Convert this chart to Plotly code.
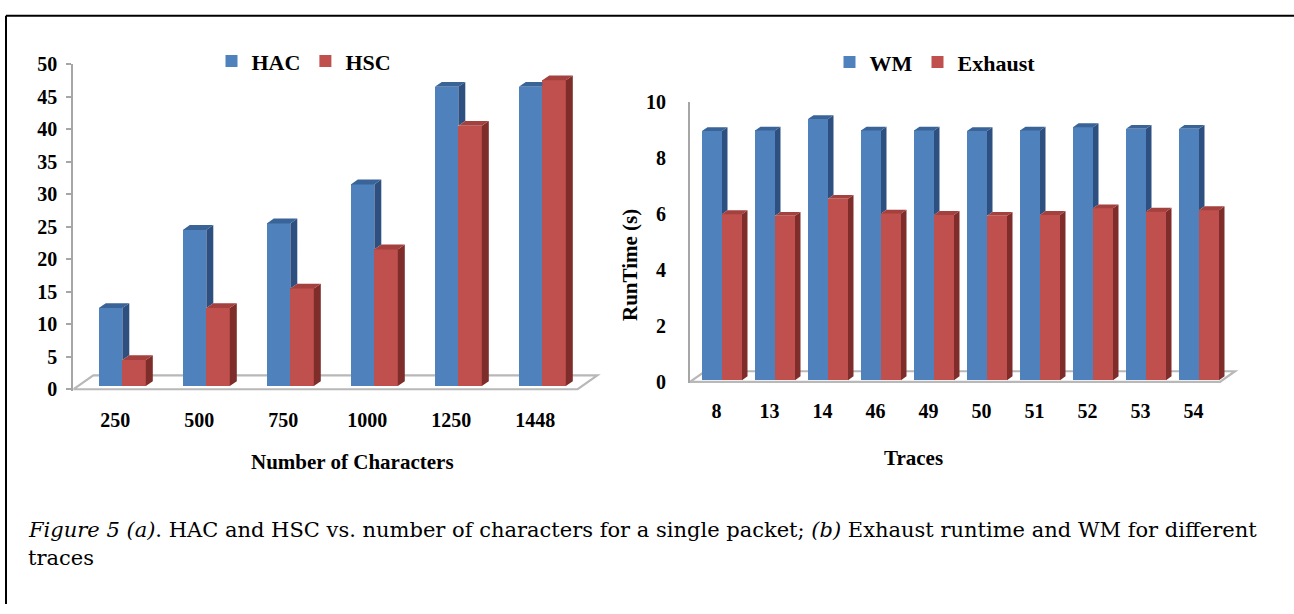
import plotly.graph_objects as go

W, H = 1294, 614

# ---------------- data ----------------
chars = ["250", "500", "750", "1000", "1250", "1448"]
hac = [12, 24, 25, 31, 46, 46]
hsc = [4, 12, 15, 21, 40, 47]

trace_ids = ["8", "13", "14", "46", "49", "50", "51", "52", "53", "54"]
wm = [8.91, 8.93, 9.34, 8.93, 8.93, 8.91, 8.93, 9.05, 8.99, 8.99]
exhaust = [5.94, 5.88, 6.49, 5.96, 5.91, 5.88, 5.91, 6.15, 6.03, 6.08]

left_ticks = [0, 5, 10, 15, 20, 25, 30, 35, 40, 45, 50]
right_ticks = [0, 2, 4, 6, 8, 10]

# ---------------- style ----------------
BLUE = dict(front="#4F81BD", side="#2D5080", top="#3A6497")
RED = dict(front="#C0504D", side="#7E2D2B", top="#A4403D")
GRAY = "#A6A6A6"
FONT = "Liberation Serif"

fig = go.Figure()


def poly_trace(polys, color, xa, ya):
    xs, ys = [], []
    for p in polys:
        for (px, py) in p:
            xs.append(px)
            ys.append(py)
        xs.append(None)
        ys.append(None)
    return go.Scatter(x=xs, y=ys, mode="lines", fill="toself", fillcolor=color,
                      line=dict(width=0, color=color), hoverinfo="skip",
                      showlegend=False, xaxis=xa, yaxis=ya)


def panel(cats, s1, s2, names, cfg, xa, ya, legend):
    n = len(cats)
    cat_px, ypp = cfg["cat_px"], cfg["ypp"]
    w = cfg["bar_px"] / cat_px
    shift = cfg["shift_px"] / cat_px
    dx = cfg["dx_px"] / cat_px
    dy = cfg["dy_px"] / ypp
    b = cfg["base_px"] / ypp
    idx = list(range(n))
    xr = [i + shift for i in idx]          # boundary between the two bars
    x1 = [c - w / 2 for c in xr]
    x2 = [c + w / 2 for c in xr]

    fig.add_trace(go.Bar(x=x1, y=s1, base=b, width=w, name=names[0],
                         marker=dict(color=BLUE["front"], line=dict(width=0)),
                         xaxis=xa, yaxis=ya, legend=legend, hoverinfo="skip"))
    fig.add_trace(go.Bar(x=x2, y=s2, base=b, width=w, name=names[1],
                         marker=dict(color=RED["front"], line=dict(width=0)),
                         xaxis=xa, yaxis=ya, legend=legend, hoverinfo="skip"))

    side1, top1, side2, top2 = [], [], [], []
    for c, v1, v2 in zip(xr, s1, s2):
        T, Hh = b + v1, b + v2
        xl = c - w
        if v1 > v2:
            side1.append([(c, Hh), (c + dx, Hh + dy), (c + dx, T + dy), (c, T)])
            top1.append([(xl, T), (c, T), (c + dx, T + dy), (xl + dx, T + dy)])
        elif T + dy <= Hh:
            top1.append([(xl, T), (c, T), (c, T + dy), (xl + dx, T + dy)])
        else:
            top1.append([(xl, T), (c, T), (c, Hh), (c + (Hh - T) * dx / dy, Hh),
                         (c + dx, T + dy), (xl + dx, T + dy)])
        xe = c + w
        side2.append([(xe, b), (xe + dx, b + dy), (xe + dx, Hh + dy), (xe, Hh)])
        top2.append([(c, Hh), (xe, Hh), (xe + dx, Hh + dy), (c + dx, Hh + dy)])

    fig.add_trace(poly_trace(side1, BLUE["side"], xa, ya))
    fig.add_trace(poly_trace(top1, BLUE["top"], xa, ya))
    fig.add_trace(poly_trace(side2, RED["side"], xa, ya))
    fig.add_trace(poly_trace(top2, RED["top"], xa, ya))

    # floor
    fdx = cfg["fdx_px"] / cat_px
    fdy = cfg["fdy_px"] / ypp
    path = (f"M {-0.5},{0} L {n - 0.5},{0} L {n - 0.5 + fdx},{fdy} "
            f"L {-0.5 + fdx},{fdy} Z")
    fig.add_shape(type="path", path=path, xref=xa, yref=ya, layer="below",
                  line=dict(color="#B8B8B8", width=2.2), fillcolor="white")

    xmax = n - 0.5 + fdx + 0.1
    dom_x = [cfg["x0_px"] / W, (cfg["x0_px"] + (xmax + 0.5) * cat_px) / W]
    bottom_px = cfg["y0_px"] - cfg["ymin"] * ypp
    top_px = cfg["y0_px"] - cfg["ymax"] * ypp
    dom_y = [1 - bottom_px / H, 1 - top_px / H]
    return idx, xmax, dom_x, dom_y


tickfont = dict(family=FONT, size=20, color="black", weight="bold")

# ---------- left panel ----------
cfgL = dict(cat_px=84.0, ypp=6.734, bar_px=23.5, shift_px=7, dx_px=7, dy_px=5,
            base_px=3.4, fdx_px=20, fdy_px=14.5, x0_px=73.3, y0_px=391.7,
            ymin=-0.2, ymax=50)
idxL, xmaxL, dxL, dyL = panel(chars, hac, hsc, ["HAC", "HSC"], cfgL, "x", "y", "legend")

# ---------- right panel ----------
cfgR = dict(cat_px=53.0, ypp=28.95, bar_px=20, shift_px=5.5, dx_px=5.5, dy_px=4,
            base_px=1.7, fdx_px=15, fdy_px=11, x0_px=690, y0_px=384,
            ymin=-0.05, ymax=10)
idxR, xmaxR, dxR, dyR = panel(trace_ids, wm, exhaust, ["WM", "Exhaust"], cfgR, "x2", "y2", "legend2")

legfont = dict(family=FONT, size=22, color="black", weight="bold")

fig.update_layout(
    width=W, height=H, margin=dict(l=0, r=0, t=0, b=0),
    paper_bgcolor="white", plot_bgcolor="rgba(0,0,0,0)",
    barmode="overlay", bargap=0,
    xaxis=dict(domain=dxL, range=[-0.5, xmaxL], tickvals=idxL, ticktext=chars,
               showline=False, showgrid=False, zeroline=False, ticks="",
               tickfont=tickfont, ticklabelstandoff=15, anchor="y", fixedrange=True),
    xaxis3=dict(overlaying="x", anchor="y", range=[-0.5, xmaxL],
                tickvals=[i - 0.5 for i in range(len(chars) + 1)],
                showticklabels=False, ticks="outside", ticklen=6, tickwidth=2,
                tickcolor=GRAY, showline=False, showgrid=False, zeroline=False),
    yaxis=dict(domain=dyL, range=[cfgL["ymin"], cfgL["ymax"]], tickvals=left_ticks,
               showline=True, linecolor=GRAY, linewidth=2, ticks="outside",
               ticklen=5, tickwidth=2, tickcolor=GRAY, showgrid=False, zeroline=False,
               tickfont=tickfont, ticklabelstandoff=5, anchor="x"),
    xaxis2=dict(domain=dxR, range=[-0.5, xmaxR], tickvals=idxR, ticktext=trace_ids,
                showline=False, showgrid=False, zeroline=False, ticks="",
                tickfont=tickfont, ticklabelstandoff=14, anchor="y2"),
    yaxis2=dict(domain=dyR, range=[cfgR["ymin"], cfgR["ymax"]], tickvals=right_ticks,
                showline=True, linecolor=GRAY, linewidth=2, ticks="",
                showgrid=False, zeroline=False, tickfont=tickfont,
                ticklabelstandoff=18, anchor="x2"),
    legend=dict(orientation="h", x=304 / W, xanchor="center", y=1 - 52 / H,
                yanchor="middle", font=legfont,
                itemwidth=30, bgcolor="rgba(0,0,0,0)", traceorder="normal"),
    legend2=dict(orientation="h", x=935 / W, xanchor="center", y=1 - 53 / H,
                 yanchor="middle", font=legfont,
                 itemwidth=30, bgcolor="rgba(0,0,0,0)", traceorder="normal"),
)

# axis titles
title_font = dict(family=FONT, size=21, color="black", weight="bold")
fig.add_annotation(text="Number of Characters", x=352 / W, y=1 - 467 / H,
                   xref="paper", yref="paper", xanchor="center", yanchor="middle",
                   showarrow=False, font=title_font)
fig.add_annotation(text="Traces", x=913 / W, y=1 - 463 / H,
                   xref="paper", yref="paper", xanchor="center", yanchor="middle",
                   showarrow=False, font=title_font)
fig.add_annotation(text="RunTime (s)", x=630 / W, y=1 - 263 / H, textangle=-90,
                   xref="paper", yref="paper", xanchor="center", yanchor="middle",
                   showarrow=False, font=title_font)

# caption
cap_font = dict(family="DejaVu Serif", size=21, color="black")
fig.add_annotation(
    text="<i>Figure 5 (a)</i>. HAC and HSC vs. number of characters for a single packet; "
         "<i>(b)</i> Exhaust runtime and WM for different",
    x=26 / W, y=1 - 537 / H, xref="paper", yref="paper", xanchor="left",
    yanchor="middle", showarrow=False, font=cap_font)
fig.add_annotation(text="traces", x=26 / W, y=1 - 566 / H, xref="paper", yref="paper",
                   xanchor="left", yanchor="middle", showarrow=False, font=cap_font)

# frame
fig.add_shape(type="line", xref="paper", yref="paper", x0=6 / W, x1=1, y0=1 - 5 / H,
              y1=1 - 5 / H, line=dict(color="black", width=2))
fig.add_shape(type="line", xref="paper", yref="paper", x0=6 / W, x1=6 / W, y0=0,
              y1=1 - 5 / H, line=dict(color="black", width=2))

fig.write_html("out.html")
